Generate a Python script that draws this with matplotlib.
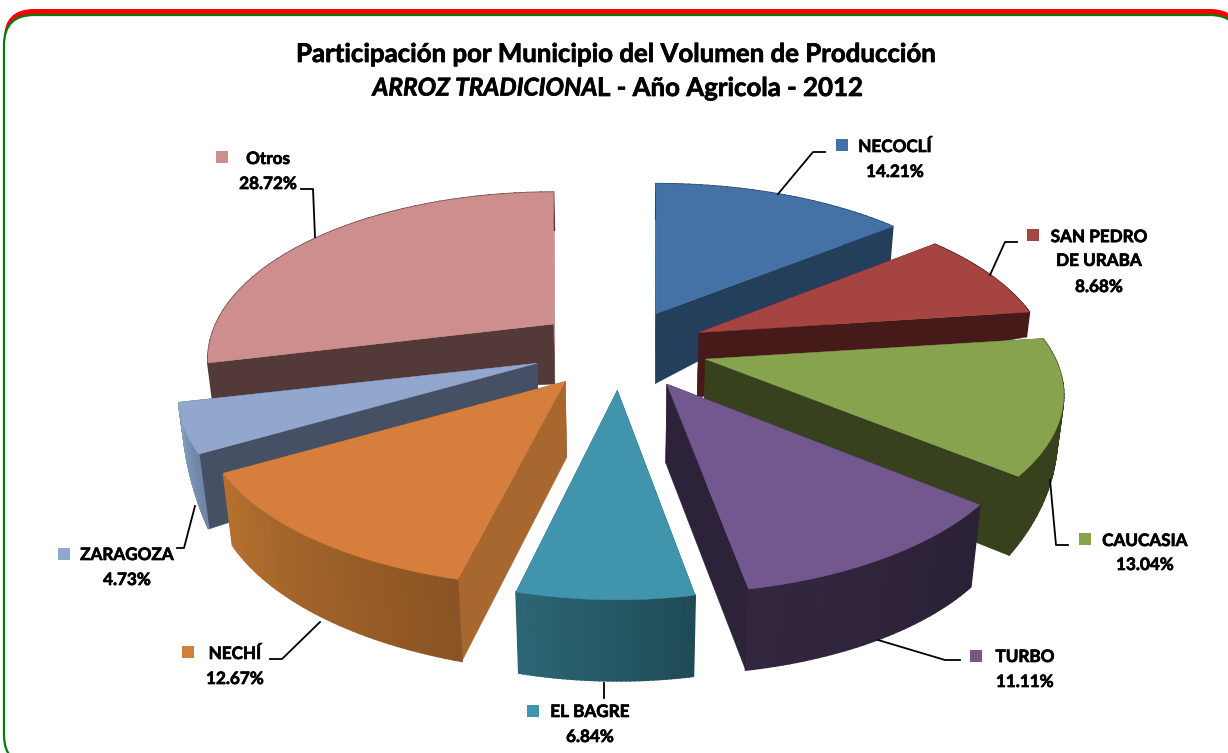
import numpy as np
import matplotlib.pyplot as plt
import matplotlib.patheffects as pe
from matplotlib.patches import FancyBboxPatch
from matplotlib.colors import to_rgb

plt.rcParams['font.family'] = ['Lato', 'DejaVu Sans']

# Datos
municipios = ['NECOCLÍ', 'SAN PEDRO\nDE URABA', 'CAUCASIA', 'TURBO', 'EL BAGRE', 'NECHÍ', 'ZARAGOZA', 'Otros']
participacion = [14.21, 8.68, 13.04, 11.11, 6.84, 12.67, 4.73, 28.72]

# Colores: cara superior, cortes, borde inicio, borde final
color_top = ['#4471A6', '#A64442', '#88A34D', '#72588E', '#4095AD', '#D67F3C', '#92A7CE', '#CE8E8D']
color_corte_fin = ['#243F5C', '#451A18', '#37411D', '#2C2239', '#1F4B57', '#8F5725', '#465064', '#B88080']
color_corte_ini = ['#1E3A58', '#451A18', '#37411D', '#2C2239', '#1F4B57', '#A8672E', '#465064', '#533938']
color_borde1 = ['#243F5C', '#451A18', '#37411D', '#2A2136', '#1F4B57', '#8A5424', '#6F84A8', '#533938']
color_borde2 = ['#243F5C', '#451A18', '#37411D', '#33273F', '#2C6674', '#B5702F', '#84A0BE', '#533938']

# Alto de cada porción en pixeles: centro, inicio del arco, final del arco
alto_centro = [70, 65, 75, 79, 81, 76, 60, 60]
alto_ini = [35, 25, 25, 82, 81, 82, 75, 38]
alto_fin = [34, 25, 79, 81, 81, 72, 30, 38]

# Ajuste del radio de cada porción
escala_x = [0.985, 0.98, 1.0, 1.0, 0.95, 1.01, 1.0, 0.965]
escala_y = [0.985, 1.0, 1.0, 1.03, 1.03, 1.01, 1.0, 1.0]

# Orden de dibujo, de atrás hacia adelante
orden = [0, 7, 1, 6, 2, 5, 3, 4]

# Proyección
cx, cy = 620, 348
F, D, el = 1456.0, 4.16, np.radians(27.2)
explode = 0.25


def proyectar(theta, r=1.0):
    x = r*np.sin(theta)
    y = r*np.cos(theta)
    den = D + np.cos(el)*y
    return F*x/den, -F*np.sin(el)*y/den


def bajar(px, py, alto):
    return px - 0.025*(px - 625)*alto/80, py + alto


fig = plt.figure(figsize=(12.28, 7.53), dpi=100)
ax = fig.add_axes([0, 0, 1, 1])
ax.set_xlim(0, 1228)
ax.set_ylim(753, 0)
ax.axis('off')

# Marco
ax.add_patch(FancyBboxPatch((4, 9), 1236, 756, boxstyle='round,pad=0,rounding_size=30',
                            fc='#FF0000', ec='none'))
ax.add_patch(FancyBboxPatch((4, 15), 1236, 750, boxstyle='round,pad=0,rounding_size=30',
                            fc='white', ec='#0A7A0A', lw=1.6))

angulos = np.radians(np.concatenate([[0], np.cumsum(participacion)])*3.6)

for i in orden:
    a0, a1 = angulos[i], angulos[i+1]
    ox, oy = proyectar((a0 + a1)/2, explode)
    ax0, ay0 = cx + ox, cy + oy
    t = np.linspace(a0, a1, 40)
    rx, ry = proyectar(t)
    rx, ry = ax0 + rx*escala_x[i], ay0 + ry*escala_y[i]
    h = np.linspace(alto_ini[i], alto_fin[i], 40)
    bx, by = bajar(rx, ry, h)
    cbx, cby = bajar(ax0, ay0, alto_centro[i])

    # cortes
    ax.fill([ax0, rx[-1], bx[-1], cbx], [ay0, ry[-1], by[-1], cby], color=color_corte_fin[i], lw=0.3)
    ax.fill([ax0, rx[0], bx[0], cbx], [ay0, ry[0], by[0], cby], color=color_corte_ini[i], lw=0.3)

    # borde exterior por franjas
    c1, c2 = np.array(to_rgb(color_borde1[i])), np.array(to_rgb(color_borde2[i]))
    for k in range(len(t)-1):
        c = c1 + (c2 - c1)*k/(len(t)-2)
        ax.fill([rx[k], rx[k+1], bx[k+1], bx[k]], [ry[k], ry[k+1], by[k+1], by[k]], color=c, lw=1.2)

    # cara superior
    ax.fill(np.r_[ax0, rx], np.r_[ay0, ry], color=color_top[i], lw=0.3)

# Títulos
grueso = [pe.withStroke(linewidth=0.5, foreground='black')]
ax.text(618, 54, 'Participación por Municipio del Volumen de Producción', ha='center', va='center',
        fontsize=18.6, fontweight='bold', color='black', path_effects=grueso)
ax.text(597, 88, 'ARROZ TRADICIONA', ha='right', va='center', fontsize=17.6, fontweight='bold',
        fontstyle='italic', color='black', path_effects=grueso)
ax.text(597, 88, 'L - Año Agricola - 2012', ha='left', va='center', fontsize=18.6, fontweight='bold',
        color='black', path_effects=grueso)

# Líneas guía
guias = [
    ([778, 813, 825], [194, 152, 152]),
    ([990, 1005, 1017], [275, 242, 242]),
    ([1050, 1056, 1068], [480, 545, 545]),
    ([878, 945, 960], [640, 660, 660]),
    ([604, 604], [683, 698]),
    ([320, 282, 270], [622, 659, 659]),
    ([195, 184, 177], [506, 548, 548]),
    ([301, 313, 315], [189, 189, 237]),
]
for gx, gy in guias:
    ax.plot(gx, gy, color='black', lw=1.3)

# Etiquetas: cuadro de color, nombre y porcentaje
cuadro_x = [842, 1033, 1085, 976, 533, 188, 64, 222]
cuadro_y = [145, 235, 539, 656, 711, 652, 554, 157]
texto_x = [895, 1099, 1145, 1025, 590, 235, 127, 268]
nombre_y = [147, 249, 541, 657, 712, 654, 555, 159]
valor_y = [172, 287, 565, 682, 737, 679, 580, 184]

for i, nombre in enumerate(municipios):
    ax.plot(cuadro_x[i], cuadro_y[i], marker='s', ms=8.6, color=color_top[i], mew=0)
    ax.text(texto_x[i], nombre_y[i], nombre, ha='center', va='center', fontsize=12.3,
            fontweight='bold', linespacing=1.6, color='black', path_effects=grueso)
    ax.text(texto_x[i], valor_y[i], f'{participacion[i]:.2f}%', ha='center', va='center',
            fontsize=12.3, fontweight='bold', color='black', path_effects=grueso)

fig.savefig('out.png', dpi=100)
